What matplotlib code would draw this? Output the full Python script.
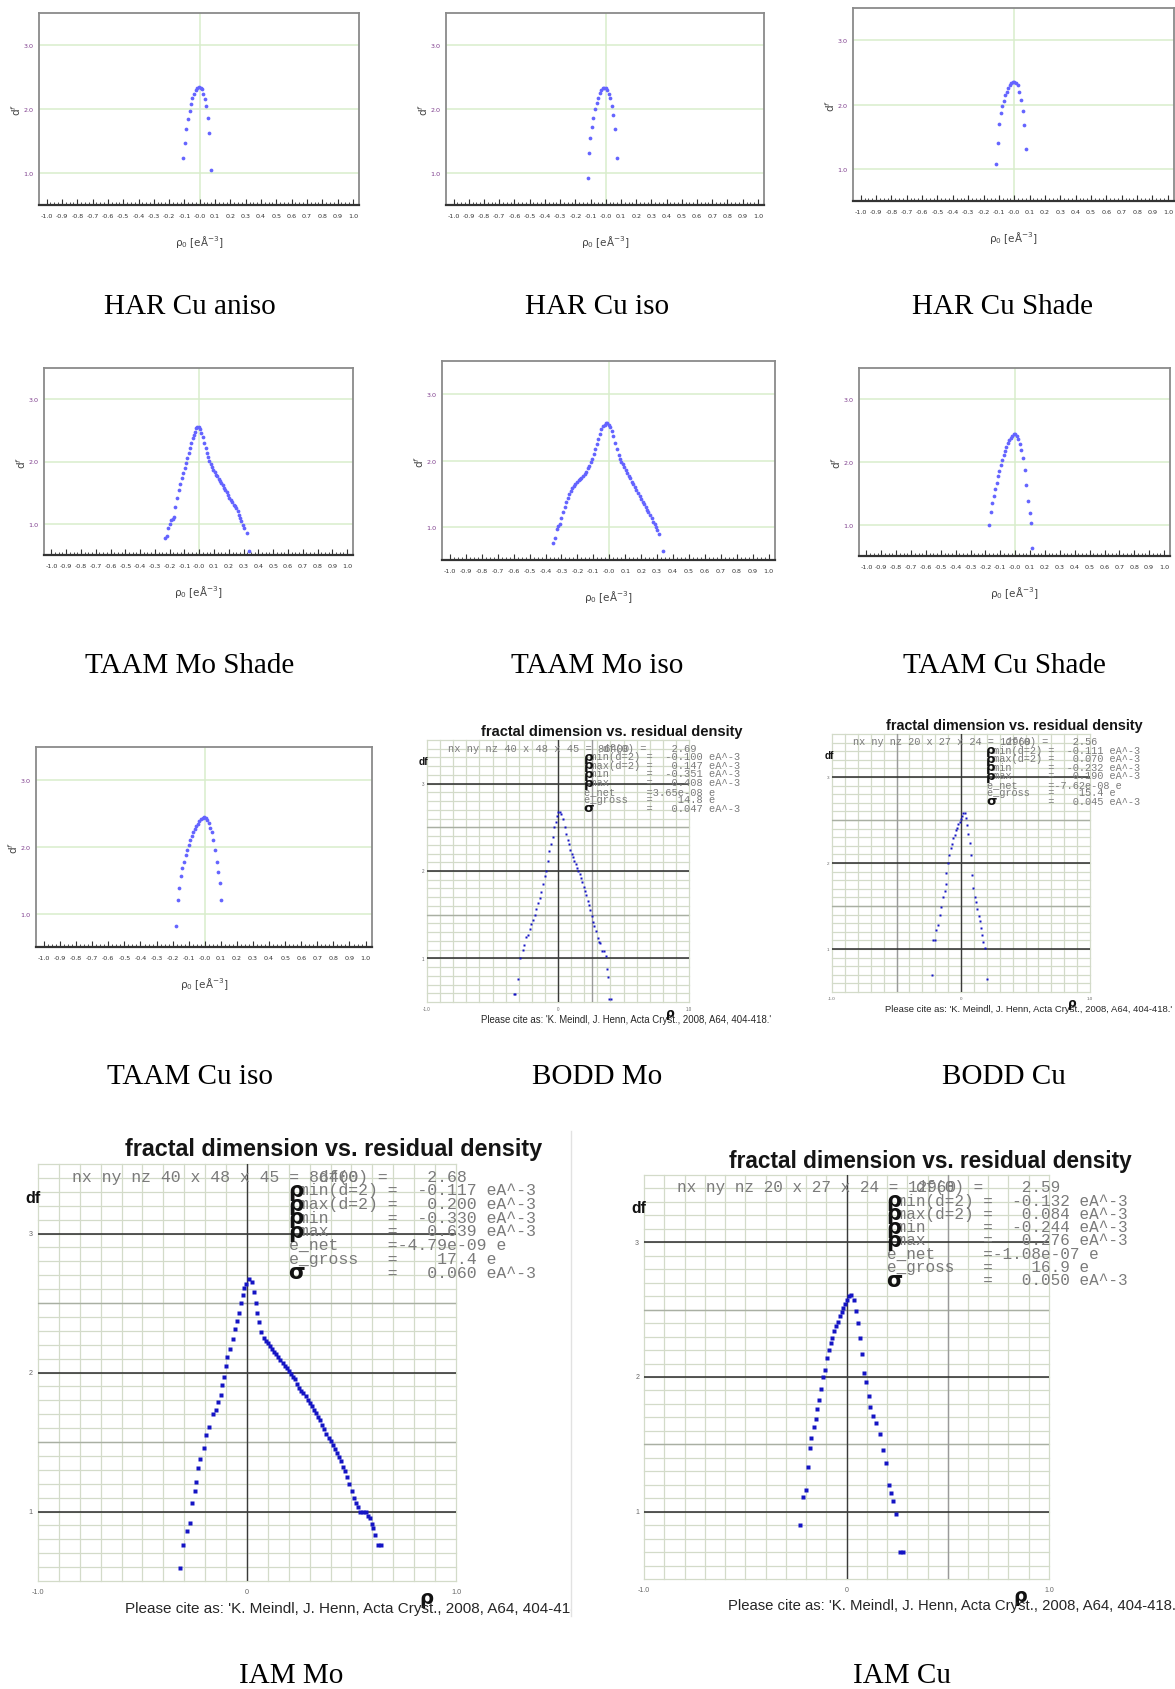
import numpy as np
import matplotlib
matplotlib.use("Agg")
import matplotlib.pyplot as plt
from matplotlib.lines import Line2D
from matplotlib.transforms import Bbox, TransformedBbox

# ---------------------------------------------------------------- data
har_cu_aniso_rho = [-0.109, -0.098, -0.087, -0.076, -0.067, -0.057, -0.048, -0.037, -0.026, -0.015,
                    -0.004, 0.007, 0.013, 0.024, 0.033, 0.041, 0.052, 0.061, 0.072]
har_cu_aniso_df = [1.24, 1.47, 1.69, 1.84, 1.97, 2.08, 2.17, 2.23, 2.29, 2.33,
                   2.34, 2.33, 2.31, 2.24, 2.15, 2.04, 1.86, 1.63, 1.04]

har_cu_iso_rho = [-0.118, -0.109, -0.101, -0.090, -0.081, -0.070, -0.059, -0.050, -0.039, -0.031,
                  -0.020, -0.009, 0.002, 0.011, 0.022, 0.031, 0.042, 0.050, 0.061, 0.072]
har_cu_iso_df = [0.92, 1.31, 1.55, 1.72, 1.86, 2.00, 2.10, 2.17, 2.25, 2.29,
                 2.33, 2.33, 2.33, 2.30, 2.24, 2.17, 2.05, 1.90, 1.69, 1.23]

har_cu_shade_rho = [-0.117, -0.106, -0.098, -0.087, -0.078, -0.067, -0.058, -0.048, -0.039, -0.028,
                    -0.020, -0.009, 0.000, 0.011, 0.022, 0.033, 0.043, 0.054, 0.063, 0.074]
har_cu_shade_df = [1.07, 1.40, 1.70, 1.87, 1.98, 2.06, 2.14, 2.20, 2.26, 2.30,
                   2.34, 2.35, 2.35, 2.34, 2.31, 2.19, 2.07, 1.90, 1.68, 1.31]

taam_mo_shade_rho = [-0.232, -0.220, -0.209, -0.198, -0.189, -0.180, -0.171, -0.162, -0.150, -0.139,
                     -0.128, -0.116, -0.107, -0.098, -0.089, -0.080, -0.071, -0.062, -0.053, -0.044,
                     -0.035, -0.028, -0.021, -0.012, -0.003, 0.006, 0.015, 0.024, 0.035, 0.044,
                     0.053, 0.060, 0.069, 0.078, 0.087, 0.096, 0.105, 0.114, 0.123, 0.132,
                     0.141, 0.150, 0.159, 0.168, 0.177, 0.186, 0.195, 0.204, 0.213, 0.222,
                     0.232, 0.241, 0.250, 0.259, 0.268, 0.277, 0.285, 0.294, 0.303, 0.321, 0.335]
taam_mo_shade_df = [0.78, 0.80, 0.93, 0.99, 1.06, 1.07, 1.11, 1.27, 1.42, 1.55,
                    1.64, 1.73, 1.82, 1.89, 1.97, 2.06, 2.14, 2.22, 2.30, 2.37,
                    2.42, 2.48, 2.53, 2.55, 2.55, 2.52, 2.46, 2.40, 2.30, 2.22,
                    2.13, 2.07, 2.01, 1.96, 1.91, 1.87, 1.83, 1.79, 1.76, 1.72,
                    1.69, 1.65, 1.62, 1.58, 1.54, 1.51, 1.46, 1.42, 1.38, 1.35,
                    1.31, 1.28, 1.25, 1.20, 1.14, 1.09, 1.04, 0.98, 0.94, 0.86, 0.56]

taam_mo_iso_rho = [-0.351, -0.339, -0.329, -0.320, -0.310, -0.301, -0.291, -0.280, -0.270, -0.261,
                   -0.251, -0.240, -0.232, -0.221, -0.213, -0.203, -0.193, -0.184, -0.175, -0.165,
                   -0.154, -0.146, -0.135, -0.127, -0.116, -0.108, -0.098, -0.089, -0.079, -0.068,
                   -0.060, -0.049, -0.041, -0.030, -0.020, -0.012, -0.001, 0.007, 0.018, 0.026,
                   0.037, 0.047, 0.058, 0.066, 0.075, 0.085, 0.094, 0.104, 0.113, 0.123,
                   0.132, 0.142, 0.150, 0.161, 0.170, 0.180, 0.190, 0.199, 0.209, 0.218,
                   0.228, 0.237, 0.246, 0.255, 0.265, 0.274, 0.284, 0.293, 0.302, 0.314, 0.335]
taam_mo_iso_df = [0.75, 0.83, 0.97, 1.02, 1.04, 1.13, 1.22, 1.30, 1.38, 1.44,
                  1.49, 1.54, 1.58, 1.62, 1.65, 1.68, 1.70, 1.72, 1.74, 1.77,
                  1.80, 1.83, 1.88, 1.92, 1.97, 2.03, 2.10, 2.17, 2.25, 2.33,
                  2.40, 2.47, 2.52, 2.54, 2.56, 2.56, 2.54, 2.51, 2.44, 2.37,
                  2.27, 2.17, 2.09, 2.03, 1.98, 1.94, 1.90, 1.85, 1.81, 1.77,
                  1.73, 1.68, 1.64, 1.60, 1.56, 1.51, 1.46, 1.42, 1.37, 1.34,
                  1.30, 1.26, 1.23, 1.18, 1.13, 1.08, 1.04, 0.99, 0.95, 0.89, 0.64]

taam_cu_shade_rho = [-0.177, -0.166, -0.157, -0.146, -0.136, -0.125, -0.116, -0.107, -0.098, -0.089,
                     -0.078, -0.069, -0.060, -0.049, -0.040, -0.030, -0.019, -0.010, 0.001, 0.012,
                     0.021, 0.033, 0.042, 0.053, 0.064, 0.075, 0.087, 0.096, 0.105, 0.114]
taam_cu_shade_df = [1.00, 1.21, 1.34, 1.45, 1.57, 1.66, 1.77, 1.86, 1.95, 2.03,
                    2.11, 2.18, 2.24, 2.30, 2.35, 2.39, 2.42, 2.44, 2.44, 2.41,
                    2.36, 2.29, 2.19, 2.06, 1.88, 1.64, 1.38, 1.18, 1.02, 0.63]

taam_cu_iso_rho = [-0.177, -0.167, -0.158, -0.148, -0.140, -0.130, -0.119, -0.111, -0.101, -0.090,
                   -0.082, -0.072, -0.061, -0.053, -0.043, -0.034, -0.024, -0.013, -0.003, 0.005,
                   0.016, 0.024, 0.034, 0.045, 0.053, 0.063, 0.074, 0.082, 0.092, 0.103]
taam_cu_iso_df = [0.82, 1.20, 1.39, 1.56, 1.69, 1.78, 1.88, 1.96, 2.03, 2.10,
                  2.17, 2.22, 2.27, 2.32, 2.35, 2.39, 2.42, 2.44, 2.45, 2.44,
                  2.41, 2.36, 2.29, 2.22, 2.10, 1.95, 1.77, 1.62, 1.46, 1.20]

bodd_mo_rho = [-0.338, -0.328, -0.302, -0.289, -0.269, -0.256, -0.241, -0.228, -0.216, -0.203,
               -0.190, -0.178, -0.165, -0.152, -0.140, -0.127, -0.114, -0.102, -0.089, -0.076,
               -0.066, -0.053, -0.041, -0.028, -0.018, -0.010, 0.003, 0.015, 0.025, 0.038,
               0.051, 0.063, 0.074, 0.084, 0.094, 0.104, 0.114, 0.124, 0.135, 0.145,
               0.155, 0.165, 0.175, 0.185, 0.195, 0.206, 0.216, 0.226, 0.236, 0.246,
               0.256, 0.266, 0.277, 0.287, 0.302, 0.312, 0.322, 0.338, 0.353, 0.363,
               0.373, 0.383, 0.392, 0.405]
bodd_mo_df = [0.59, 0.59, 0.76, 1.00, 1.09, 1.15, 1.24, 1.27, 1.34, 1.39,
              1.44, 1.50, 1.57, 1.63, 1.69, 1.76, 1.85, 1.94, 2.00, 2.11,
              2.23, 2.31, 2.39, 2.50, 2.56, 2.63, 2.68, 2.67, 2.65, 2.59,
              2.50, 2.42, 2.36, 2.31, 2.24, 2.20, 2.16, 2.12, 2.08, 2.04,
              2.00, 1.96, 1.92, 1.87, 1.82, 1.77, 1.72, 1.66, 1.61, 1.55,
              1.49, 1.42, 1.37, 1.31, 1.23, 1.19, 1.17, 1.08, 1.08, 1.03,
              0.88, 0.79, 0.54, 0.54]

bodd_cu_rho = [-0.225, -0.218, -0.202, -0.194, -0.181, -0.166, -0.153, -0.140, -0.127, -0.114,
               -0.114, -0.101, -0.091, -0.080, -0.070, -0.060, -0.049, -0.041, -0.031, -0.021,
               -0.010, 0.000, 0.008, 0.013, 0.028, 0.036, 0.047, 0.057, 0.067, 0.078,
               0.088, 0.096, 0.106, 0.116, 0.127, 0.137, 0.145, 0.155, 0.163, 0.171,
               0.186, 0.199]
bodd_cu_df = [0.70, 1.10, 1.10, 1.22, 1.28, 1.39, 1.49, 1.60, 1.68, 1.76,
              1.88, 2.00, 2.09, 2.17, 2.22, 2.29, 2.33, 2.38, 2.41, 2.45,
              2.48, 2.51, 2.55, 2.58, 2.58, 2.52, 2.44, 2.34, 2.23, 2.09,
              1.86, 1.71, 1.60, 1.55, 1.47, 1.38, 1.32, 1.24, 1.16, 1.08,
              1.01, 0.65]

iam_mo_rho = [-0.320, -0.305, -0.287, -0.273, -0.262, -0.251, -0.244, -0.233, -0.226, -0.208,
              -0.194, -0.180, -0.165, -0.149, -0.137, -0.126, -0.119, -0.112, -0.101, -0.094,
              -0.082, -0.069, -0.059, -0.046, -0.037, -0.028, -0.020, -0.012, -0.004, 0.009,
              0.023, 0.032, 0.041, 0.048, 0.057, 0.069,
              0.080, 0.090, 0.100, 0.110, 0.120, 0.130, 0.140, 0.150, 0.160, 0.170,
              0.180, 0.190, 0.200, 0.210, 0.220, 0.230, 0.240, 0.250, 0.260, 0.270,
              0.280, 0.290, 0.300, 0.310, 0.320, 0.330, 0.340, 0.350, 0.360, 0.370,
              0.380, 0.390, 0.400, 0.410, 0.420, 0.430, 0.440, 0.450, 0.460, 0.470,
              0.480, 0.490, 0.500, 0.510, 0.520, 0.530, 0.540, 0.555, 0.567, 0.580,
              0.590, 0.600, 0.605, 0.612, 0.625, 0.640]
iam_mo_df = [0.59, 0.76, 0.86, 0.92, 1.06, 1.15, 1.21, 1.31, 1.38, 1.46,
             1.55, 1.61, 1.70, 1.73, 1.79, 1.84, 1.91, 1.97, 2.05, 2.11,
             2.17, 2.24, 2.31, 2.37, 2.43, 2.50, 2.56, 2.61, 2.64, 2.67,
             2.65, 2.58, 2.50, 2.43, 2.36, 2.29,
             2.25, 2.23, 2.21, 2.19, 2.17, 2.15, 2.13, 2.11, 2.09, 2.07,
             2.05, 2.03, 2.01, 1.99, 1.97, 1.95, 1.92, 1.89, 1.87, 1.85,
             1.83, 1.80, 1.78, 1.76, 1.73, 1.71, 1.68, 1.66, 1.62, 1.59,
             1.56, 1.53, 1.51, 1.48, 1.45, 1.42, 1.39, 1.36, 1.32, 1.29,
             1.25, 1.20, 1.15, 1.10, 1.06, 1.03, 1.00, 1.00, 1.00, 0.97,
             0.95, 0.91, 0.88, 0.83, 0.76, 0.76]

iam_cu_rho = [-0.230, -0.215, -0.200, -0.189, -0.182, -0.174, -0.162, -0.150, -0.145, -0.135,
              -0.126, -0.117, -0.105, -0.098, -0.086, -0.079, -0.070, -0.060, -0.051, -0.043,
              -0.034, -0.024, -0.015, -0.008, 0.002, 0.011, 0.023,
              0.038, 0.049, 0.058, 0.066, 0.075, 0.086, 0.096, 0.109, 0.118, 0.130,
              0.148, 0.163, 0.178, 0.193, 0.208, 0.219, 0.230, 0.245, 0.262, 0.280]
iam_cu_df = [0.90, 1.11, 1.16, 1.33, 1.47, 1.55, 1.63, 1.69, 1.76, 1.83,
             1.91, 2.00, 2.05, 2.14, 2.20, 2.25, 2.29, 2.34, 2.38, 2.41,
             2.45, 2.48, 2.51, 2.54, 2.57, 2.60, 2.61,
             2.57, 2.49, 2.40, 2.29, 2.17, 2.03, 1.96, 1.86, 1.78, 1.71,
             1.66, 1.58, 1.46, 1.36, 1.20, 1.14, 1.08, 0.98, 0.70, 0.70]

# summary statistics printed on the fractal-dimension plots
bodd_mo_grid = "40 x 48 x 45 = 86400"
bodd_mo_stats = ["2.69", "-0.100", "0.147", "-0.351", "0.408", "3.65e-08", "14.8", "0.047"]
bodd_cu_grid = "20 x 27 x 24 = 12960"
bodd_cu_stats = ["2.56", "-0.111", "0.070", "-0.232", "0.190", "-7.62e-08", "15.4", "0.045"]
iam_mo_grid = "40 x 48 x 45 = 86400"
iam_mo_stats = ["2.68", "-0.117", "0.200", "-0.330", "0.639", "-4.79e-09", "17.4", "0.060"]
iam_cu_grid = "20 x 27 x 24 = 12960"
iam_cu_stats = ["2.59", "-0.132", "0.084", "-0.244", "0.276", "-1.08e-07", "16.9", "0.050"]

x_tick_values = [round(v, 1) for v in np.arange(-1.0, 1.001, 0.1)]
x_tick_labels = ["%.1f" % v for v in x_tick_values]
y_tick_values = [1, 2, 3]
y_tick_labels = ["1.0", "2.0", "3.0"]

captions = ["HAR Cu aniso", "HAR Cu iso", "HAR Cu Shade",
            "TAAM Mo Shade", "TAAM Mo iso", "TAAM Cu Shade",
            "TAAM Cu iso", "BODD Mo", "BODD Cu",
            "IAM Mo", "IAM Cu"]
cite_text = "Please cite as: 'K. Meindl, J. Henn, Acta Cryst., 2008, A64, 404-418.'"
title_text = "fractal dimension vs. residual density"

# ---------------------------------------------------------------- figure
W, H = 1175, 1690
fig = plt.figure(figsize=(W / 100, H / 100), dpi=100)
fig.patch.set_facecolor("white")
renderer = fig.canvas.get_renderer()


def add_axes_px(l, t, r, b):
    return fig.add_axes([l / W, 1 - b / H, (r - l) / W, (b - t) / H])


def fit_width(txt, target_px):
    w = txt.get_window_extent(renderer).width
    txt.set_fontsize(txt.get_fontsize() * target_px / w)


def olex_panel(box, rho, df):
    l, t, r, b = box
    wpx, hpx = r - l, b - t
    ax = add_axes_px(l, t, r, b)
    ax.set_xlim(-1.05, 1.04)
    ax.set_ylim(0.5, 3.5)
    for y in y_tick_values:
        ax.axhline(y, color="#d9edcc", lw=1.1, zorder=0)
    ax.axvline(0, color="#d9edcc", lw=1.1, zorder=0)
    ax.plot(rho, df, "o", ms=2.7, color="#6464ff", mec="none", zorder=3)
    for side in ("left", "top", "right"):
        ax.spines[side].set_color("#8a8a8a")
        ax.spines[side].set_linewidth(1.3)
    ax.spines["bottom"].set_color("#333333")
    ax.spines["bottom"].set_linewidth(1.6)
    ax.set_xticks(x_tick_values)
    ax.set_xticklabels(x_tick_labels, family="DejaVu Sans")
    ax.set_xticks(np.arange(-1.0, 1.0001, 0.025), minor=True)
    ax.tick_params(axis="x", which="both", direction="in", color="#333333",
                   labelsize=4.6, labelcolor="#333333", pad=6)
    ax.tick_params(axis="x", which="major", length=4, width=0.8)
    ax.tick_params(axis="x", which="minor", length=2, width=0.6)
    ax.set_yticks(y_tick_values)
    ax.set_yticklabels(y_tick_labels, family="DejaVu Sans")
    ax.tick_params(axis="y", length=0, labelsize=4.6, labelcolor="#7d3c8c", pad=4)
    ax.text(0.5, -36 / hpx, "ρ$_0$ [eÅ$^{-3}$]", transform=ax.transAxes,
            ha="center", va="center", fontsize=7.5, color="#444444",
            family="DejaVu Sans")
    ax.text(-23 / wpx, 0.5, "d$^f$", transform=ax.transAxes, rotation=90,
            ha="center", va="center", fontsize=7.5, color="#444444")
    return ax


def drk_panel(box, rho, df, grid_txt, stats, extra_v=None, ms=2.0, clip_right=None):
    l, t, r, b = box
    wpx = r - l
    ax = add_axes_px(l, t, r, b)
    ax.set_xlim(-1, 1)
    ax.set_ylim(0.5, 3.5)
    ax.axis("off")
    light = "#d3dbc9"
    for x in np.arange(-1.0, 1.0001, 0.1):
        ax.axvline(x, color=light, lw=0.9, zorder=0, clip_on=False)
    for y in np.arange(0.5, 3.5001, 0.1):
        ax.axhline(y, color=light, lw=0.9, zorder=0, clip_on=False)
    for y in (1.5, 2.5):
        ax.axhline(y, color="#a9afa3", lw=1.0, zorder=1)
    if extra_v is not None:
        ax.axvline(extra_v, color="#9a9a9a", lw=1.0, zorder=1)
    for y in (1, 2, 3):
        ax.axhline(y, color="#2a2a2a", lw=1.1, zorder=1)
    ax.axvline(0, color="#3a3a3a", lw=1.0, zorder=1)
    ax.plot(rho, df, "s", ms=ms, color="#1414c4", mec="none", zorder=3)

    common = dict(transform=ax.transAxes, clip_on=False)
    # title
    tt = ax.text(0.707, 1.036, title_text, ha="center", va="center",
                 family="Liberation Sans", fontweight="bold", color="#151515",
                 fontsize=10, **common)
    fit_width(tt, 1.0 * wpx)
    # axis labels
    ax.text(-0.012, 0.92, "df", ha="center", va="center", family="Liberation Sans",
            fontweight="bold", fontsize=0.028 * wpx, color="#111111", **common)
    small = 0.0125 * wpx
    for y, lab in zip((1, 2, 3), ("1", "2", "3")):
        ax.text(-0.012, (y - 0.5) / 3.0, lab, ha="right", va="center",
                fontsize=small, color="#666666", family="Liberation Sans", **common)
    for x, lab in zip((0.0, 0.5, 1.0), ("-1.0", "0", "1.0")):
        ax.text(x, -0.025, lab, ha="center", va="center", fontsize=small,
                color="#666666", family="Liberation Sans", **common)
    ax.text(0.93, -0.04, "ρ", ha="center", va="center", fontsize=0.034 * wpx,
            fontweight="bold", color="#111111", family="DejaVu Sans", **common)
    # citation line
    ct = ax.text(0.207, -0.065, cite_text, ha="left", va="center",
                 family="Liberation Sans", color="#262626", fontsize=7, **common)
    fit_width(ct, 1.107 * wpx)
    if clip_right is not None:
        ct.set_clip_box(TransformedBbox(Bbox([[0, 0], [clip_right / W, 1]]),
                                        fig.transFigure))
        ct.set_clip_on(True)

    # statistics block
    fs = 0.0285 * wpx
    colw = 0.0238
    x0 = 0.600
    ys = 0.971 - 0.0329 * np.arange(8)
    mono = dict(family="Liberation Mono", color="#7a7a7a", fontsize=fs,
                va="center", ha="left", **common)
    ax.text(x0 - 21.8 * colw, ys[0], "nx ny nz " + grid_txt, **mono)
    df0, rmin2, rmax2, rmin, rmax, enet, egross, sig = stats
    rows = ["   df(0) =" + df0.rjust(8),
            " min(d=2) =" + rmin2.rjust(8) + " eA^-3",
            " max(d=2) =" + rmax2.rjust(8) + " eA^-3",
            " min      =" + rmin.rjust(8) + " eA^-3",
            " max      =" + rmax.rjust(8) + " eA^-3",
            "e_net     =" + enet.rjust(8) + " e",
            "e_gross   =" + egross.rjust(8) + " e",
            "          =" + sig.rjust(8) + " eA^-3"]
    for y, row in zip(ys, rows):
        ax.text(x0, y, row, **mono)
    greek = dict(fontsize=fs * 1.3, fontweight="bold", color="#111111",
                 family="DejaVu Sans", va="center", ha="left", **common)
    for y in ys[1:5]:
        ax.text(x0 - 0.1 * colw, y, "ρ", **greek)
    ax.text(x0 - 0.1 * colw, ys[7], "σ", **greek)
    return ax


# row 1 and row 2: HAR / TAAM
olex_panel((39, 14, 359, 206), har_cu_aniso_rho, har_cu_aniso_df)
olex_panel((446, 14, 764, 206), har_cu_iso_rho, har_cu_iso_df)
olex_panel((853, 9, 1174, 202), har_cu_shade_rho, har_cu_shade_df)
olex_panel((44, 369, 353, 556), taam_mo_shade_rho, taam_mo_shade_df)
olex_panel((442, 362, 775, 561), taam_mo_iso_rho, taam_mo_iso_df)
olex_panel((859, 369, 1170, 557), taam_cu_shade_rho, taam_cu_shade_df)
olex_panel((36, 748, 372, 948), taam_cu_iso_rho, taam_cu_iso_df)

# fractal-dimension plots
drk_panel((427, 741, 689, 1003), bodd_mo_rho, bodd_mo_df, bodd_mo_grid, bodd_mo_stats,
          extra_v=0.26, ms=1.9)
drk_panel((832, 735, 1090, 993), bodd_cu_rho, bodd_cu_df, bodd_cu_grid, bodd_cu_stats,
          extra_v=-0.5, ms=1.9)
drk_panel((38, 1165, 456, 1582), iam_mo_rho, iam_mo_df, iam_mo_grid, iam_mo_stats,
          ms=2.6, clip_right=571)
drk_panel((644, 1176, 1049, 1580), iam_cu_rho, iam_cu_df, iam_cu_grid, iam_cu_stats,
          extra_v=0.5, ms=2.6)

# thin frame edge between the two bottom plots
fig.add_artist(Line2D([571 / W, 571 / W], [1 - 1132 / H, 1 - 1617 / H],
                      transform=fig.transFigure, color="#e2e2e2", lw=1.0))

# captions
caption_pos = [(190, 307), (597, 307), (1003, 307),
               (190, 666), (597, 666), (1004, 666),
               (190, 1077), (597, 1077), (1004, 1077),
               (291, 1676), (902, 1676)]
for text, (cx, cy) in zip(captions, caption_pos):
    fig.text(cx / W, 1 - cy / H, text, ha="center", va="center",
             family="Liberation Serif", fontsize=21, color="#000000")

fig.savefig("out.png", dpi=100, facecolor="white")
